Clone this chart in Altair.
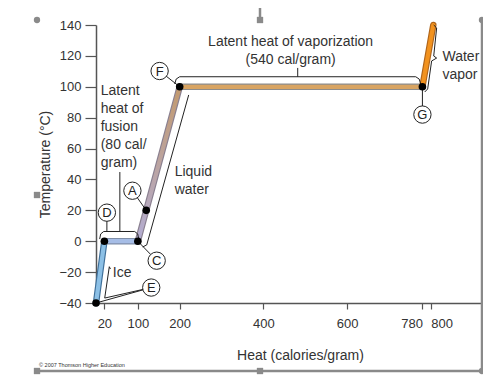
import altair as alt
import pandas as pd

FONT = "Liberation Sans"
TXT = "#333333"

# ---- heating curve (heat in cal/g, temperature in °C) ----
seg_names = ["ice", "fusion", "liquid", "vaporization", "vapor"]
curve_heat = [0, 20, 100, 200, 780, 806]
curve_temp = [-40, 0, 0, 100, 100, 140]
seg_inner = ["#8cc0e6", "#a6bde6", None, "#d8a462", "#f2921e"]
seg_outline = ["#3f6f99", "#7f8ea8", "#8a8090", "#8c8c8c", "#b0651a"]

# ---- labelled points ----
pt_letters = ["E", "D", "C", "A", "F", "G"]
pt_heat = [0, 20, 100, 120, 200, 780]
pt_temp = [-40, 0, 0, 20, 100, 100]
lab_heat = [132, 26, 145, 87, 152, 780]
lab_temp = [-30, 18.5, -12.6, 32.7, 110.2, 82]

# ---- texts ----
left_text = ["Latent", "heat of", "fusion", "(80 cal/", "gram)",
             "Liquid", "water", "Ice", "Water", "vapor"]
left_x = [11.2, 11.2, 11.2, 11.2, 11.2, 188, 188, 40, 828, 828]
left_y = [97.3, 85.6, 74.0, 62.3, 50.6, 44.8, 33.2, -20.6, 119.3, 107.6]
center_text = ["Latent heat of vaporization", "(540 cal/gram)"]
center_x = [465, 465]
center_y = [129.2, 117.3]

x_ticks = [20, 100, 200, 400, 600, 780, 800]
y_ticks = [-40, -20, 0, 20, 40, 60, 80, 100, 120, 140]

# ---- brackets / leader lines (heat, temp) ----
guides = {
    "fusion_bracket": ([8.8, 11.2, 18.4, 92.5, 99.7, 102.0], [1.4, 4.7, 6.3, 6.3, 4.7, 1.4]),
    "fusion_stem": ([57, 57], [6.3, 44.8]),
    "vap_bracket": ([188.1, 191.6, 200, 764, 772.3, 775.9], [101.8, 105.0, 106.5, 106.5, 105.0, 101.8]),
    "vap_stem": ([482, 482], [106.5, 112.2]),
    "liquid_line": ([111.6, 121.2, 221.5], [-3.7, -2.4, 94.7]),
    "ice_line": ([20.8, 31.8, 34.5], [-36.8, -16.5, -18.0]),
    "vapor_brace": ([807, 814, 807, 814, 802, 792.6, 785.5], [140, 138.1, 119.9, 118.6, 116.7, 98.6, 96.6]),
    "lead_A": ([87, 120], [32.7, 20]),
    "lead_C": ([100, 145], [0, -12.6]),
    "lead_D": ([26, 26], [18.5, 6.3]),
    "lead_E1": ([132, 0], [-30, -40]),
    "lead_E2": ([132, 20.8], [-30, -36.8]),
    "lead_F": ([152.2, 200], [110.2, 100]),
    "lead_G": ([780, 780], [82, 100]),
}

xscale = alt.Scale(domain=[0, 920], nice=False, zero=False)
yscale = alt.Scale(domain=[-40, 140], nice=False, zero=False)

X = alt.X("x:Q", scale=xscale, axis=alt.Axis(
    values=x_ticks, title="Heat (calories/gram)", titleX=204, titleY=52,
    titleBaseline="middle", titleFont=FONT, titleFontSize=14,
    titleFontWeight="normal", titleColor=TXT, tickSize=6, tickWidth=1.2,
    tickColor="#555", domainColor="#555", domainWidth=1.5, labelFont=FONT,
    labelFontSize=13, labelColor=TXT, labelPadding=8, labelOverlap=False,
    labelFlush=False, grid=False,
    labelAlign={"expr": "datum.value == 780 ? 'right' : (datum.value == 800 ? 'left' : 'center')"}))
Y = alt.Y("y:Q", scale=yscale, axis=alt.Axis(
    values=y_ticks, title="Temperature (°C)", titleX=-51, titleY=139,
    titleBaseline="middle", titleAlign="center", titleFont=FONT,
    titleFontSize=14, titleFontWeight="normal", titleColor=TXT, tickSize=11,
    tickWidth=1.2, tickColor="#555", domainColor="#555", domainWidth=1.5,
    labelFont=FONT, labelFontSize=13, labelColor=TXT, labelPadding=4,
    labelOverlap=False, grid=False))

layers = []

def seg_df(i):
    return pd.DataFrame({"x": curve_heat[i:i + 2], "y": curve_temp[i:i + 2], "o": [0, 1]})

for i, name in enumerate(seg_names):
    layers.append(alt.Chart(seg_df(i)).mark_line(
        strokeWidth=6.5, color=seg_outline[i], strokeCap="round").encode(x=X, y=Y, order="o:Q"))

for i, name in enumerate(seg_names):
    if seg_inner[i] is None:
        mk = alt.Chart(seg_df(i)).mark_line(
            strokeWidth=4.2, strokeCap="round",
            stroke=alt.Gradient(gradient="linear", x1=0, x2=0, y1=1, y2=0,
                                stops=[alt.GradientStop(color="#b3add3", offset=0),
                                       alt.GradientStop(color="#c39a6e", offset=1)]))
    else:
        mk = alt.Chart(seg_df(i)).mark_line(strokeWidth=4.2, color=seg_inner[i], strokeCap="round")
    layers.append(mk.encode(x=X, y=Y, order="o:Q"))

rows = []
for g, (gx, gy) in guides.items():
    for k, (a, b) in enumerate(zip(gx, gy)):
        rows.append({"g": g, "x": a, "y": b, "o": k})
gdf = pd.DataFrame(rows)
layers.append(alt.Chart(gdf).mark_line(color="#222", strokeWidth=1, interpolate="linear").encode(
    x=X, y=Y, detail="g:N", order="o:Q"))

pdf = pd.DataFrame({"x": pt_heat, "y": pt_temp})
layers.append(alt.Chart(pdf).mark_point(filled=True, color="#000", size=58, opacity=1).encode(x=X, y=Y))

ldf = pd.DataFrame({"x": lab_heat, "y": lab_temp, "t": pt_letters})
layers.append(alt.Chart(ldf).mark_point(shape="circle", filled=True, fill="white", stroke="#222",
                                        strokeWidth=1, size=300, opacity=1).encode(x=X, y=Y))
layers.append(alt.Chart(ldf).mark_text(font=FONT, fontSize=13, color="#222", baseline="middle",
                                       align="center", dy=0.5).encode(x=X, y=Y, text="t:N"))

tdf = pd.DataFrame({"x": left_x, "y": left_y, "t": left_text})
layers.append(alt.Chart(tdf).mark_text(font=FONT, fontSize=14, color=TXT, baseline="middle",
                                       align="left").encode(x=X, y=Y, text="t:N"))
cdf = pd.DataFrame({"x": center_x, "y": center_y, "t": center_text})
layers.append(alt.Chart(cdf).mark_text(font=FONT, fontSize=14, color=TXT, baseline="middle",
                                       align="center").encode(x=X, y=Y, text="t:N"))

# ---- page furniture (pixel space) ----
PX = lambda f: alt.X(f, scale=None, axis=None)
PY = lambda f: alt.Y(f, scale=None, axis=None)
copy_df = pd.DataFrame({"px": [-57], "py": [340], "t": ["© 2007 Thomson Higher Education"]})
layers.append(alt.Chart(copy_df).mark_text(font=FONT, fontSize=5.5, color=TXT, align="left",
                                           baseline="middle").encode(x=PX("px:Q"), y=PY("py:Q"), text="t:N"))
frame_df = pd.DataFrame({"px": [386, -59, 164], "py": [-5, 346, -23],
                         "px2": [386, 386, 164], "py2": [346, 346, -5]})
layers.append(alt.Chart(frame_df).mark_rule(color="#8a8a8a", strokeWidth=2.5).encode(
    x=PX("px:Q"), y=PY("py:Q"), x2="px2:Q", y2="py2:Q"))
sq_df = pd.DataFrame({"px": [-59, -59, 164, 164], "py": [170, 346, -5, 346]})
layers.append(alt.Chart(sq_df).mark_point(shape="square", filled=True, color="#8a8a8a", size=40,
                                          opacity=1).encode(x=PX("px:Q"), y=PY("py:Q")))
ci_df = pd.DataFrame({"px": [-59, 386, 386], "py": [-5, -5, 346]})
layers.append(alt.Chart(ci_df).mark_point(shape="circle", filled=True, color="#8a8a8a", size=40,
                                          opacity=1).encode(x=PX("px:Q"), y=PY("py:Q")))
gr_df = pd.DataFrame({"px": [164], "py": [-23]})
layers.append(alt.Chart(gr_df).mark_point(shape="circle", filled=True, color="#22dd22", size=50,
                                          opacity=1).encode(x=PX("px:Q"), y=PY("py:Q")))

chart = alt.layer(*layers).properties(
    width=385, height=278,
    autosize=alt.AutoSizeParams(type="none"),
    padding={"left": 88, "top": 17, "right": 2, "bottom": 77},
    background="white",
).configure_view(stroke=None)

chart.save("out.html", embed_options={"renderer": "svg", "actions": False})
